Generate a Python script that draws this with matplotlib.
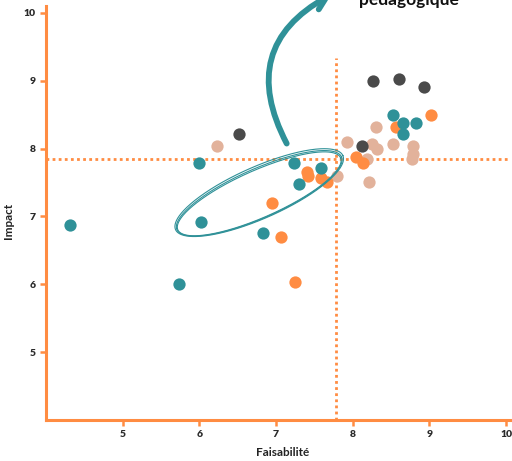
import numpy as np
import matplotlib.pyplot as plt

teal = '#2f9198'
orange = '#ff8c42'
tan = '#e2b29b'
dark = '#4a4a4a'

teal_x = [4.31, 5.73, 6.02, 5.99, 6.83, 7.24, 7.30, 7.59, 8.53, 8.66, 8.66, 8.82]
teal_y = [6.88, 6.01, 6.92, 7.78, 6.76, 7.79, 7.47, 7.72, 8.50, 8.37, 8.22, 8.37]

dark_x = [6.51, 8.26, 8.60, 8.93, 8.12]
dark_y = [8.22, 9.00, 9.03, 8.91, 8.04]

orange_x = [6.95, 7.07, 7.25, 7.40, 7.42, 7.58, 7.66, 8.04, 8.13, 8.56, 9.02]
orange_y = [7.19, 6.70, 6.04, 7.66, 7.59, 7.57, 7.51, 7.88, 7.79, 8.32, 8.50]

tan_x = [6.23, 7.80, 7.93, 8.30, 8.25, 8.32, 8.19, 8.21, 8.52, 8.78, 8.78, 8.77]
tan_y = [8.03, 7.59, 8.10, 8.31, 8.06, 7.99, 7.85, 7.51, 8.06, 8.04, 7.92, 7.84]

x_ticks = [5, 6, 7, 8, 9, 10]
y_ticks = [5, 6, 7, 8, 9, 10]
seuil_x = 7.78
seuil_y = 7.85

plt.rcParams['font.family'] = ['Lato', 'DejaVu Sans']

fig = plt.figure(figsize=(5.12, 4.61), dpi=100)
ax = fig.add_axes([46 / 512, 41 / 461, 464 / 512, 414 / 461])
ax.set_xlim(4.0, 10.05)
ax.set_ylim(4.0, 10.1)

for sp in ['top', 'right']:
    ax.spines[sp].set_visible(False)
for sp in ['left', 'bottom']:
    ax.spines[sp].set_color(orange)
    ax.spines[sp].set_linewidth(2.2)

ax.set_xticks(x_ticks)
ax.set_yticks(y_ticks)
ax.tick_params(colors=orange, width=1.8, length=4, labelsize=7.5, labelcolor='#2a2a2a')
for lab in ax.get_xticklabels() + ax.get_yticklabels():
    lab.set_fontweight('heavy')

# seuils
ax.plot([4.0, 10.05], [seuil_y, seuil_y], color=orange, lw=2, ls=(0, (1, 1.2)), zorder=1)
ax.plot([seuil_x, seuil_x], [4.0, 9.34], color=orange, lw=2, ls=(0, (1, 1.2)), zorder=1)

s = 78
ax.scatter(tan_x, tan_y, s=s, color=tan, lw=0, zorder=3)
ax.scatter(orange_x, orange_y, s=s, color=orange, lw=0, zorder=3)
ax.scatter(teal_x, teal_y, s=s, color=teal, lw=0, zorder=3)
ax.scatter(dark_x, dark_y, s=s, color=dark, lw=0, zorder=3)

ax.set_xlabel('Faisabilité', fontsize=8.5, fontweight='bold', color='#222222', labelpad=5)
ax.xaxis.set_label_coords(0.51, -0.065)
ax.set_ylabel('Impact', fontsize=8.5, fontweight='bold', color='#222222')
ax.yaxis.set_label_coords(-0.068, 0.48)

# ellipse dessinée à la main (en pixels puis convertie)
px_x, px_y = 76.7, 67.9
cx, cy = 6.78, 7.34
t = np.linspace(0, 2 * np.pi, 300)
th = np.radians(23.9)
for a, b, d in [(90, 24.5, 0), (91.5, 25.8, 0.7), (89, 23.5, -0.5)]:
    dx = a * np.cos(t) * np.cos(th) - b * np.sin(t) * np.sin(th)
    dy = a * np.cos(t) * np.sin(th) + b * np.sin(t) * np.cos(th)
    ax.plot(cx + dx / px_x, cy + (dy + d) / px_y, color=teal, lw=0.8, zorder=4)

# flèche vers le texte
ax.annotate('', xy=(334 / 512, 468 / 461), xytext=(288 / 512, 315 / 461),
            xycoords='figure fraction', textcoords='figure fraction',
            arrowprops=dict(arrowstyle='->,head_length=0.9,head_width=0.5', color=teal,
                            lw=4.2, connectionstyle='arc3,rad=-0.5'),
            annotation_clip=False)
fig.text(409 / 512, 456 / 461, 'pédagogique', fontsize=12.5, fontweight='bold',
         color='#111111', ha='center', va='baseline')

fig.savefig('out.png', dpi=100)
